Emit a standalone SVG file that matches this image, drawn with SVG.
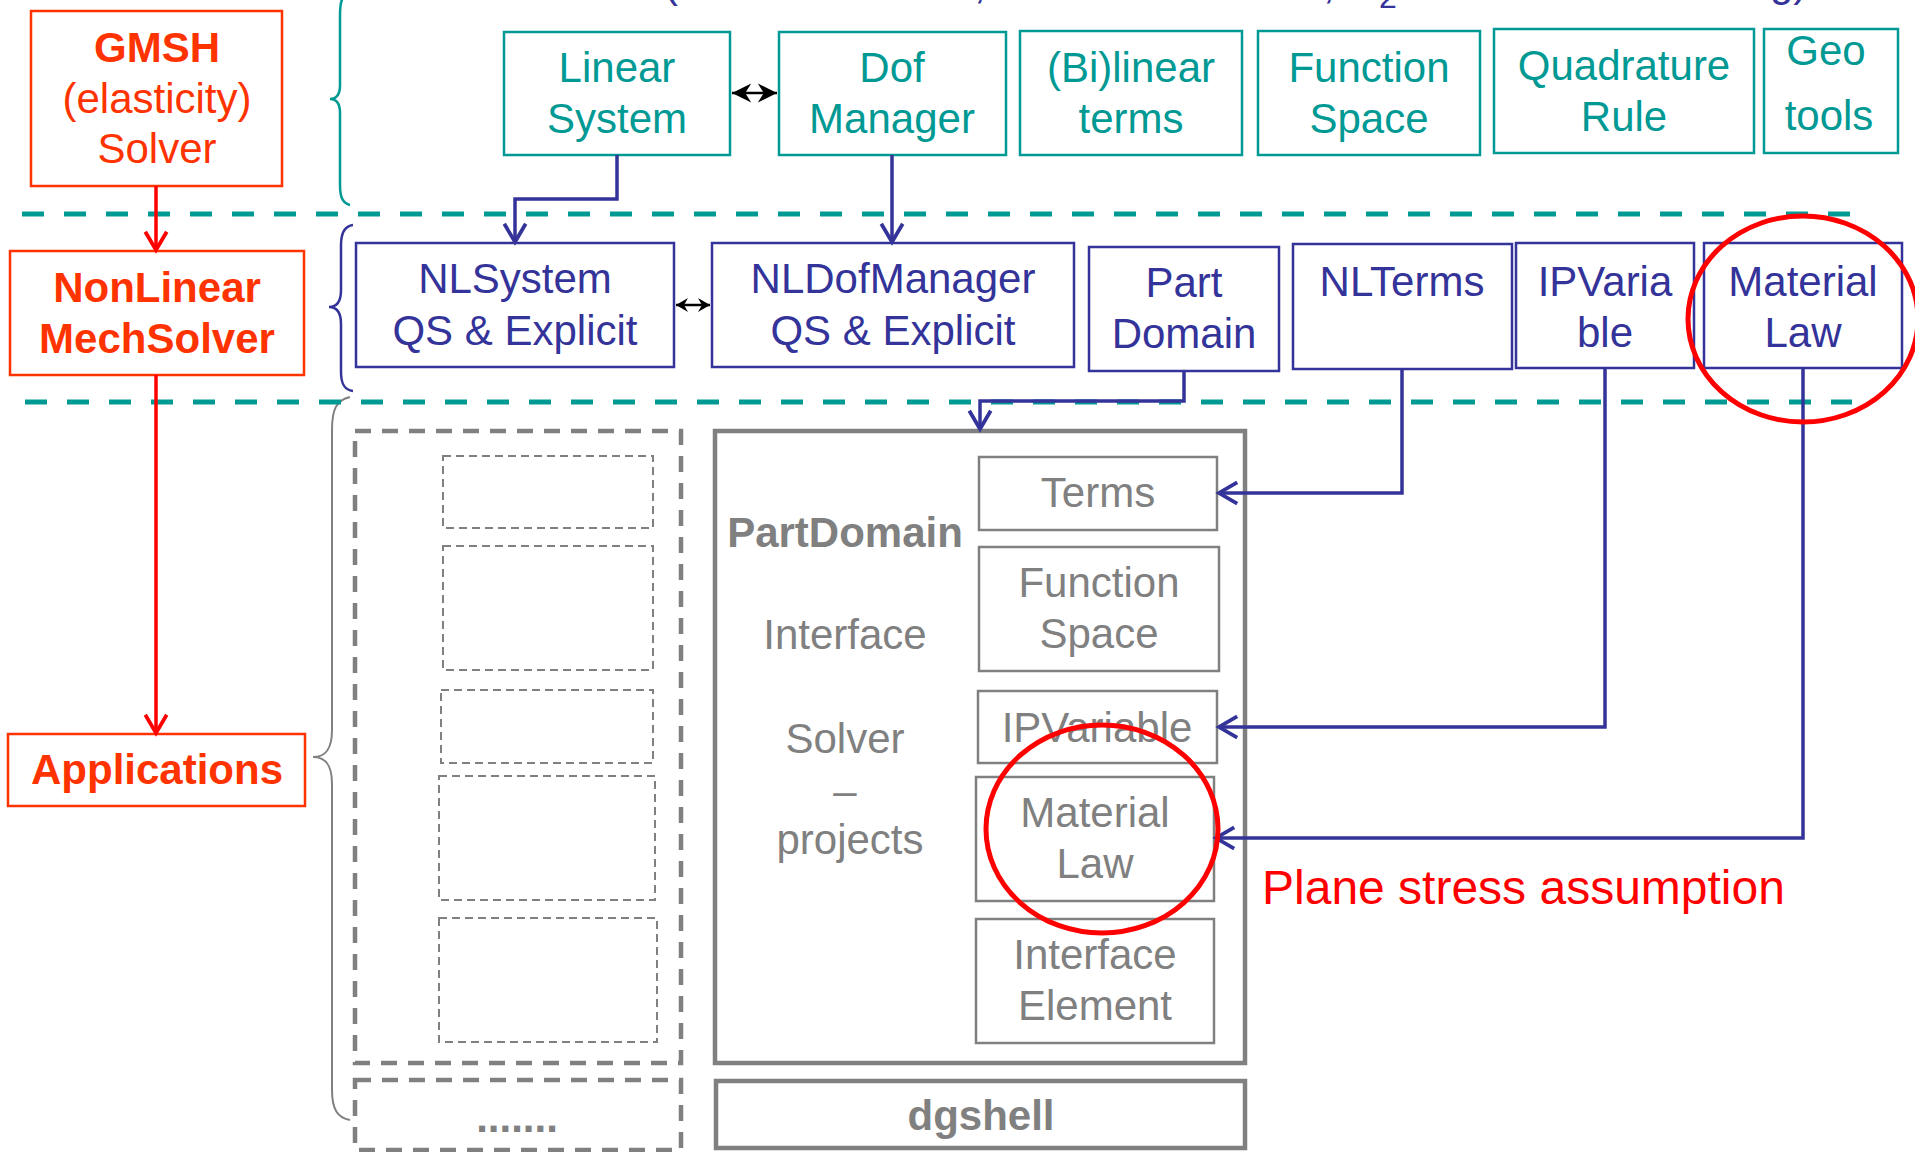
<svg xmlns="http://www.w3.org/2000/svg" width="1915" height="1152" viewBox="0 0 1915 1152">
<defs>
<style>
text{font-family:"Liberation Sans",Arial,sans-serif;font-size:42px;text-anchor:middle}
.teal rect{fill:#fff;stroke:#009994;stroke-width:2.5}
.teal text{fill:#009994}
.blue rect{fill:#fff;stroke:#333399;stroke-width:2.5}
.blue text{fill:#333399}
.org rect{fill:#fff;stroke:#FF3300;stroke-width:2.5}
.org text{fill:#FF3300;font-weight:bold}
.gbox rect{fill:#fff;stroke:#808080;stroke-width:2.5}
.gbox text{fill:#808080}
.big{fill:none;stroke:#808080;stroke-width:4.5}
.dsh{fill:none;stroke:#808080;stroke-width:4.5;stroke-dasharray:16 11}
.dshs{fill:none;stroke:#808080;stroke-width:2;stroke-dasharray:8 5}
.sep{stroke:#009994;stroke-width:5;stroke-dasharray:22 20}
.cb{fill:none;stroke:#333399;stroke-width:3.5;stroke-linejoin:miter}
.cr{fill:none;stroke:#FF0000;stroke-width:3.5}
.ck{fill:none;stroke:#000;stroke-width:2.5}
.circ{fill:none;stroke:#FF0000;stroke-width:5}
</style>
<marker id="ab" markerUnits="userSpaceOnUse" markerWidth="30" markerHeight="30" viewBox="-22 -14 26 28" refX="0" refY="0" orient="auto"><path d="M-17,-10 L0,0 L-17,10" fill="none" stroke="#333399" stroke-width="3.5"/></marker>
<marker id="ar" markerUnits="userSpaceOnUse" markerWidth="30" markerHeight="30" viewBox="-22 -14 26 28" refX="0" refY="0" orient="auto"><path d="M-17,-10 L0,0 L-17,10" fill="none" stroke="#FF0000" stroke-width="3.5"/></marker>
<marker id="ak" markerUnits="userSpaceOnUse" markerWidth="24" markerHeight="24" viewBox="-18 -10 20 20" refX="0" refY="0" orient="auto-start-reverse"><path d="M0,0 L-16,-8 L-11,0 L-16,8 Z" fill="#000"/></marker>
<marker id="aks" markerUnits="userSpaceOnUse" markerWidth="16" markerHeight="16" viewBox="-13 -8 14 16" refX="0" refY="0" orient="auto-start-reverse"><path d="M0,0 L-12,-7 L-8,0 L-12,7 Z" fill="#000"/></marker>
</defs>
<rect width="1915" height="1152" fill="#fff"/>

<g id="top-fragments" fill="#333399">
<text x="664" y="-3" style="text-anchor:start">(</text>
<text x="974" y="-2" style="text-anchor:start">,</text>
<text x="1323" y="-2" style="text-anchor:start">,</text>
<text x="1379" y="8" style="text-anchor:start;font-size:32px">2</text>
<text x="1770" y="-4" style="text-anchor:start">g)</text>
</g>

<g id="braces" fill="none" stroke-width="2.5">
<path d="M350,-8 C343,-6 340,0 340,15 L340,85 C340,95 336,99 330,99 C336,99 340,103 340,113 L340,185 C340,198 343,203 350,205" stroke="#009994"/>
<path d="M353,225 C345,226 341,232 341,245 L341,290 C341,302 336,307 329,307 C336,307 341,312 341,324 L341,372 C341,385 345,390 353,391" stroke="#333399"/>
<path d="M350,397 C336,400 332,410 332,430 L332,730 C332,750 325,757 313,757 C325,757 332,764 332,784 L332,1090 C332,1110 338,1118 350,1120" stroke="#808080" stroke-width="2"/>
</g>

<g id="separators">
<line class="sep" x1="22" y1="214" x2="1852" y2="214"/>
<line class="sep" x1="25" y1="402" x2="1852" y2="402"/>
</g>

<g id="gmsh" class="org"><rect x="31" y="11" width="251" height="175"/>
<text x="157" y="62">GMSH</text>
<text x="157" y="113" style="font-weight:normal">(elasticity)</text>
<text x="157" y="163" style="font-weight:normal">Solver</text></g>
<g id="nonlinear" class="org"><rect x="10" y="251" width="294" height="124"/>
<text x="157" y="302">NonLinear</text><text x="157" y="353">MechSolver</text></g>
<g id="applications" class="org"><rect x="8" y="734" width="297" height="72"/>
<text x="157" y="784">Applications</text></g>

<g id="linear-system" class="teal"><rect x="504" y="32" width="226" height="123"/>
<text x="617" y="82">Linear</text><text x="617" y="133">System</text></g>
<g id="dof-manager" class="teal"><rect x="779" y="32" width="227" height="123"/>
<text x="892" y="82">Dof</text><text x="892" y="133">Manager</text></g>
<g id="bilinear-terms" class="teal"><rect x="1020" y="31" width="222" height="124"/>
<text x="1131" y="82">(Bi)linear</text><text x="1131" y="133">terms</text></g>
<g id="function-space" class="teal"><rect x="1258" y="31" width="222" height="124"/>
<text x="1369" y="82">Function</text><text x="1369" y="133">Space</text></g>
<g id="quadrature-rule" class="teal"><rect x="1494" y="29" width="260" height="124"/>
<text x="1624" y="80">Quadrature</text><text x="1624" y="131">Rule</text></g>
<g id="geo-tools" class="teal"><rect x="1764" y="29" width="134" height="124"/>
<text x="1826" y="65">Geo</text><text x="1829" y="130">tools</text></g>

<g id="nlsystem" class="blue"><rect x="356" y="243" width="318" height="124"/>
<text x="515" y="293">NLSystem</text><text x="515" y="345">QS &amp; Explicit</text></g>
<g id="nldofmanager" class="blue"><rect x="712" y="243" width="362" height="124"/>
<text x="893" y="293">NLDofManager</text><text x="893" y="345">QS &amp; Explicit</text></g>
<g id="part-domain" class="blue"><rect x="1089" y="247" width="190" height="124"/>
<text x="1184" y="297">Part</text><text x="1184" y="348">Domain</text></g>
<g id="nlterms" class="blue"><rect x="1293" y="244" width="219" height="125"/>
<text x="1402" y="296">NLTerms</text></g>
<g id="ipvariable" class="blue"><rect x="1516" y="243" width="178" height="125"/>
<text x="1605" y="296">IPVaria</text><text x="1605" y="347">ble</text></g>
<g id="material-law" class="blue"><rect x="1704" y="243" width="198" height="125"/>
<text x="1803" y="296">Material</text><text x="1803" y="347">Law</text></g>

<g id="applications-area">
<rect class="dsh" x="355" y="431" width="326" height="632"/>
<rect class="dshs" x="443" y="456" width="210" height="72"/>
<rect class="dshs" x="443" y="546" width="210" height="124"/>
<rect class="dshs" x="441" y="690" width="212" height="73"/>
<rect class="dshs" x="439" y="776" width="216" height="124"/>
<rect class="dshs" x="439" y="918" width="218" height="124"/>
</g>
<g id="more-apps"><rect class="dsh" x="355" y="1080" width="326" height="70"/>
<text x="517" y="1132" style="fill:#808080;font-weight:bold">.......</text></g>

<g id="partdomain-box">
<rect class="big" x="715" y="431" width="530" height="632"/>
<g fill="#808080"><text x="845" y="547" style="font-weight:bold">PartDomain</text>
<text x="845" y="649">Interface</text>
<text x="845" y="753">Solver</text>
<text x="845" y="805">–</text>
<text x="850" y="854">projects</text></g>
</g>
<g id="terms" class="gbox"><rect x="979" y="457" width="238" height="73"/><text x="1098" y="507">Terms</text></g>
<g id="function-space-2" class="gbox"><rect x="979" y="547" width="240" height="124"/><text x="1099" y="597">Function</text><text x="1099" y="648">Space</text></g>
<g id="ipvariable-2" class="gbox"><rect x="978" y="691" width="239" height="72"/><text x="1097" y="742">IPVariable</text></g>
<g id="material-law-2" class="gbox"><rect x="976" y="777" width="238" height="124"/><text x="1095" y="827">Material</text><text x="1095" y="878">Law</text></g>
<g id="interface-element" class="gbox"><rect x="976" y="919" width="238" height="124"/><text x="1095" y="969">Interface</text><text x="1095" y="1020">Element</text></g>
<g id="dgshell"><rect class="big" x="716" y="1081" width="529" height="67"/>
<text x="981" y="1130" style="fill:#808080;font-weight:bold">dgshell</text></g>

<g id="connectors">
<line class="cr" x1="156" y1="186" x2="156" y2="250" marker-end="url(#ar)"/>
<line class="cr" x1="156" y1="375" x2="156" y2="733" marker-end="url(#ar)"/>
<line class="ck" x1="732" y1="93" x2="777" y2="93" marker-start="url(#ak)" marker-end="url(#ak)"/>
<line class="ck" x1="676" y1="305" x2="710" y2="305" marker-start="url(#aks)" marker-end="url(#aks)"/>
<polyline class="cb" points="617,155 617,199 515,199 515,242" marker-end="url(#ab)"/>
<polyline class="cb" points="892,155 892,242" marker-end="url(#ab)"/>
<polyline class="cb" points="1184,371 1184,401 980,401 980,429" marker-end="url(#ab)"/>
<polyline class="cb" points="1402,369 1402,493 1219,493" marker-end="url(#ab)"/>
<polyline class="cb" points="1605,368 1605,727 1219,727" marker-end="url(#ab)"/>
<polyline class="cb" points="1803,368 1803,838 1216,838" marker-end="url(#ab)"/>
</g>

<g id="highlights">
<ellipse class="circ" cx="1803" cy="319" rx="115" ry="103"/>
<ellipse class="circ" cx="1102" cy="829" rx="116" ry="104"/>
<text x="1262" y="904" style="text-anchor:start;fill:#FF0000;font-size:48px">Plane stress assumption</text>
</g>
</svg>
